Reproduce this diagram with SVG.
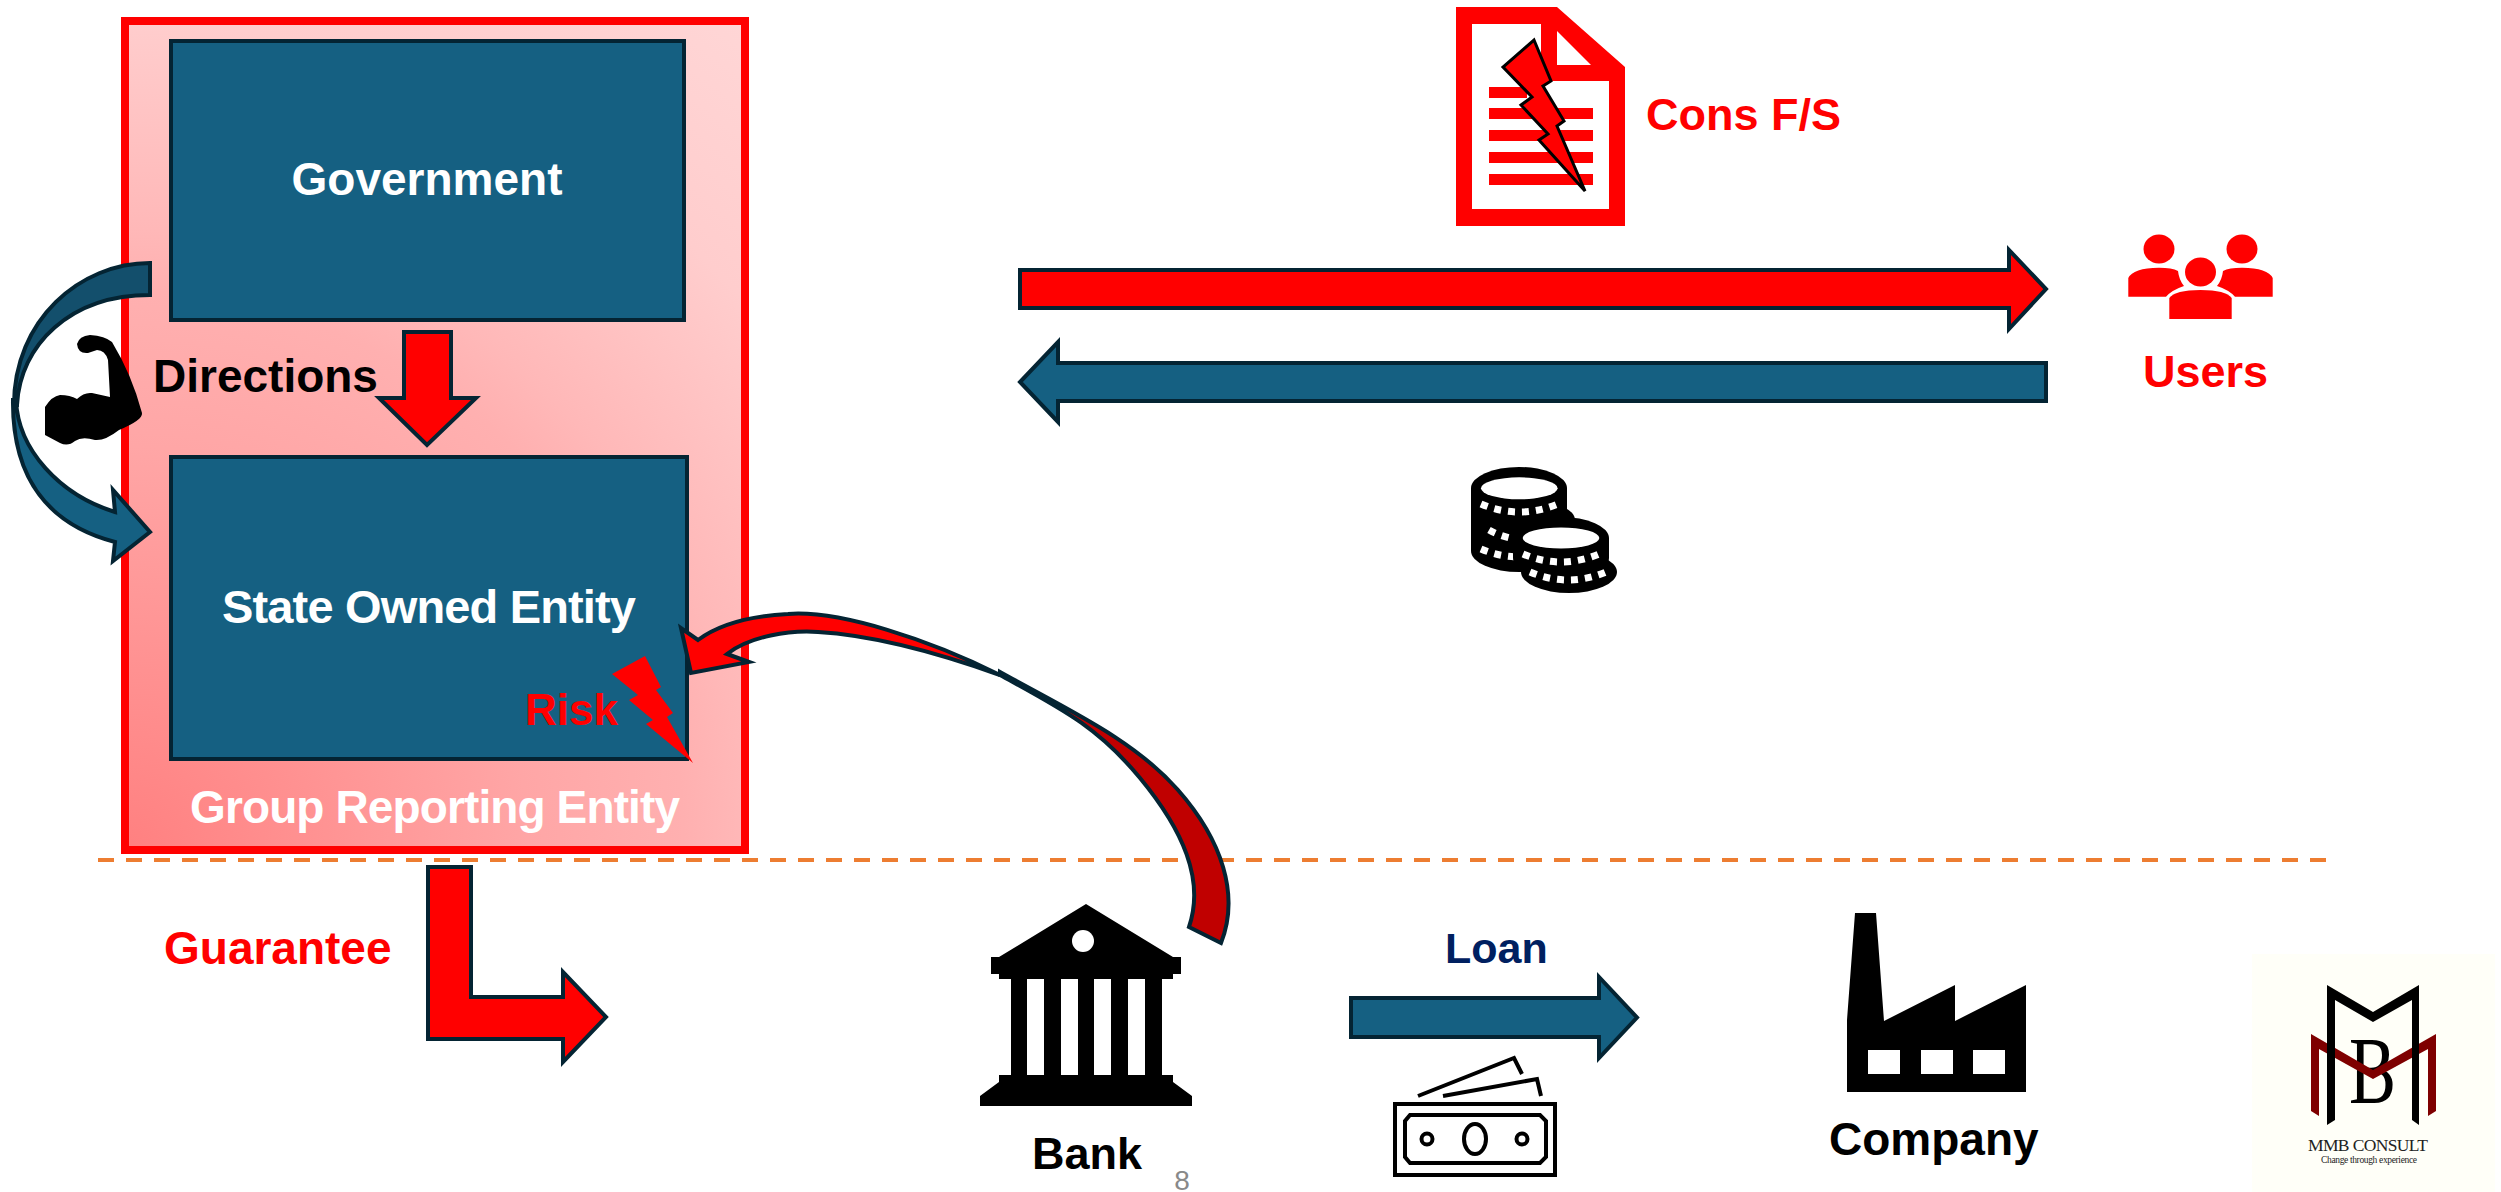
<svg xmlns="http://www.w3.org/2000/svg" width="2501" height="1192" viewBox="0 0 2501 1192">
<style>
text{font-family:"Liberation Sans",Arial,sans-serif;font-weight:700;font-size:45px}
.blue{fill:#156082;stroke:#042433;stroke-width:4;stroke-linejoin:miter}
.red{fill:#f00;stroke:#042433;stroke-width:4;stroke-linejoin:miter}
.dred{fill:#c00000;stroke:#042433;stroke-width:4}
.wt{fill:#fff}.rt{fill:#f00}.bt{fill:#000}
.k{fill:#000}.w{fill:#fff}
.notch{fill:none;stroke:#fff;stroke-width:7;stroke-dasharray:7 7}
.cash{fill:none;stroke:#000;stroke-width:4}
</style>
<defs>
<radialGradient id="grp" gradientUnits="userSpaceOnUse" cx="125" cy="850" r="1035">
<stop offset="0" stop-color="#ff8080"/><stop offset=".39" stop-color="#ffa6a6"/><stop offset=".54" stop-color="#ffb0b0"/><stop offset=".6" stop-color="#ffb8b8"/><stop offset=".8" stop-color="#ffcdcd"/><stop offset="1" stop-color="#ffd6d6"/>
</radialGradient>
</defs>
<rect width="2501" height="1192" fill="#fff"/>

<g id="group-reporting-entity">
<rect x="125" y="21" width="620" height="829" fill="url(#grp)" stroke="#f00" stroke-width="8"/>
<text x="190" y="823" textLength="490" class="wt" style="font-size:46px">Group Reporting Entity</text>
</g>
<g id="government">
<rect x="171" y="41" width="513" height="279" class="blue"/>
<text x="427" y="195" text-anchor="middle" class="wt" style="font-size:46px">Government</text>
</g>
<g id="state-owned-entity">
<rect x="171" y="457" width="516" height="302" class="blue"/>
<text x="222" y="623" textLength="414" class="wt" style="font-size:47px">State Owned Entity</text>
</g>
<g id="risk">
<text x="525" y="725" class="rt" style="font-size:44px">Risk</text>
<polygon points="645,656 661,687 656,690 673,713 667,717 693,763 646,724 653,720 629,700 638,695 612,674" fill="#f00"/>
</g>

<line id="divider" x1="98" y1="860" x2="2326" y2="860" stroke="#ed7d31" stroke-width="4" stroke-dasharray="16 12"/>

<g id="connectors">
<polygon class="red" points="404,332 451,332 451,398 476,398 427,445 379,398 404,398"/>
<path d="M150 263C80 263 14 320 14 405L17 405C20 345 70 295 150 295Z" fill="#134f6c" stroke="#042433" stroke-width="4"/>
<path class="blue" d="M16 400C18 450 60 495 115 512L113 490L150 532L113 561L115 542C50 525 12 480 13 400Z"/>
<path class="dred" d="M1189 927C1205 880 1183 830 1140 778S1060 708 1000 675L1000 672C1072 712 1134 740 1178 790S1240 895 1221 943Z"/>
<path class="red" d="M681 628L691 673L749 662L727 654C750 636 790 630 818 632C870 635 930 650 1000 675C930 640 840 610 788 614C750 616 718 625 698 640Z"/>
<polygon class="red" points="1020,270 2009,270 2009,250 2046,289 2009,329 2009,308 1020,308"/>
<polygon class="blue" points="2046,363 1058,363 1058,342 1020,382 1058,422 1058,401 2046,401"/>
<polygon class="red" points="428,867 471,867 471,997 563,997 563,972 606,1017 563,1062 563,1039 428,1039"/>
<polygon class="blue" points="1351,998 1599,998 1599,977 1637,1017.500 1599,1058 1599,1037 1351,1037"/>
</g>

<g id="directions">
<path class="k" d="M90 335Q105 336 112 342Q132 375 142 413Q143 420 119 430Q105 441 95 440Q82 436 75 441Q68 447 60 443L45 435V407Q52 396 60 395Q70 395 77 399Q84 392 92 393L110 397L108 360Q105 350 97 350L88 353Q78 354 77 344Q79 336 90 335Z"/>
<text x="153" y="392" style="font-size:46px" class="bt">Directions</text>
</g>

<g id="guarantee"><text x="164" y="964" class="rt" style="font-size:46px">Guarantee</text></g>

<g id="cons-fs">
<path fill-rule="evenodd" fill="#f00" d="M1456 7H1557L1625 67V226H1456ZM1472 24V209H1609V81H1541V24ZM1557 31V65H1591Z"/>
<g fill="#f00"><rect x="1489" y="87" width="38" height="11"/><rect x="1489" y="108" width="104" height="11"/><rect x="1489" y="130" width="104" height="11"/><rect x="1489" y="152" width="104" height="11"/><rect x="1489" y="174" width="104" height="11"/></g>
<polygon points="1534,40 1551,81 1543,86 1564,121 1557,126 1585,191 1539,140 1548,134 1521,105 1532,97 1503,67" fill="#f00" stroke="#000" stroke-width="3"/>
<text x="1646" y="130" class="rt">Cons F/S</text>
</g>

<g id="users" fill="#f00">
<ellipse cx="2159" cy="249" rx="15.500" ry="14.500"/><ellipse cx="2242" cy="249" rx="15.500" ry="14.500"/><ellipse cx="2200.500" cy="272" rx="15.500" ry="14.500"/>
<path d="M2128.300 296.700V278Q2133 268 2159 267.700Q2172 267.700 2178 271Q2179 280 2184 286Q2172 290 2166 296.700Z"/>
<path d="M2272.700 296.700V278Q2268 268 2242 267.700Q2229 267.700 2223 271Q2222 280 2217 286Q2229 290 2235 296.700Z"/>
<path d="M2169.300 319V298Q2175 290 2200.500 290Q2226 290 2231.700 298V319Z"/>
<text x="2143" y="387" class="rt">Users</text>
</g>

<g id="coins">
<g class="k"><ellipse cx="1519" cy="488" rx="48" ry="21"/><ellipse cx="1519" cy="551" rx="48" ry="21"/><rect x="1471" y="488" width="96" height="63"/><ellipse cx="1527" cy="520" rx="48" ry="20"/></g>
<ellipse class="w" cx="1519.300" cy="488.300" rx="38.300" ry="11"/>
<path class="notch" d="M1481 504Q1519 520 1558 504"/>
<path class="notch" d="M1489 530Q1505 539 1530 541"/>
<path class="notch" d="M1481 549Q1519 565 1558 549"/>
<g class="k"><ellipse cx="1561" cy="538" rx="48" ry="21"/><rect x="1513" y="538" width="96" height="20"/><ellipse cx="1561" cy="558" rx="48" ry="21"/><ellipse cx="1569" cy="572" rx="48" ry="21"/></g>
<ellipse class="w" cx="1561" cy="538" rx="38.300" ry="10.500"/>
<path class="notch" d="M1523 554Q1561 570 1599 554"/>
<path class="notch" d="M1530 572Q1568 588 1606 572"/>
</g>

<g id="bank">
<path class="k" d="M1086 904L1173 957H1181V974H1173V979H1162V1075H1173V1082L1192 1096V1106H980V1096L999 1082V1075H1011V979H999V974H991V957H999Z"/>
<g class="w"><circle cx="1083" cy="941" r="11"/><rect x="1027" y="979" width="17" height="96"/><rect x="1061" y="979" width="17" height="96"/><rect x="1094" y="979" width="17" height="96"/><rect x="1128" y="979" width="17" height="96"/></g>
<text x="1032" y="1169" class="bt">Bank</text>
</g>

<text id="page-number" x="1182" y="1190" text-anchor="middle" fill="#898989" style="font-weight:400;font-size:28px">8</text>

<g id="loan">
<text x="1445" y="963" fill="#002060" style="font-size:43px">Loan</text>
<rect class="cash" x="1395" y="1104" width="160" height="71"/>
<polygon class="cash" points="1410,1115 1540,1115 1546,1121 1546,1157 1540,1163 1410,1163 1405,1157 1405,1121"/>
<ellipse class="cash" cx="1475" cy="1139" rx="11" ry="15"/>
<circle class="cash" cx="1427" cy="1139" r="5.500"/><circle class="cash" cx="1522" cy="1139" r="5.500"/>
<polyline class="cash" points="1418,1096 1514,1058 1522,1074"/>
<polyline class="cash" points="1443,1096 1537,1079 1541,1096"/>
</g>

<g id="company">
<path class="k" d="M1855 913H1876L1884 1021L1955 985V1021L2026 985V1092H1847V1020Z"/>
<g class="w"><rect x="1868" y="1050" width="32" height="24"/><rect x="1921" y="1050" width="32" height="24"/><rect x="1973" y="1050" width="32" height="24"/></g>
<text x="1829" y="1155" class="bt" style="font-size:46px">Company</text>
</g>

<g id="logo">
<rect x="2252" y="954" width="243" height="238" fill="#fffff8"/>
<text transform="translate(2349 1103) scale(.72 .98)" style="font-family:'Liberation Serif',serif;font-size:98px;font-weight:400">B</text>
<polygon fill="#7f0000" points="2311,1034 2373,1070 2436,1034 2436,1111 2428,1116 2428,1049 2373,1079 2319,1049 2319,1116 2311,1111"/>
<polygon class="k" points="2327,985 2373,1012 2419,985 2419,1125 2412,1120 2412,1000 2373,1022 2335,1000 2335,1120 2327,1125"/>
<text x="2308" y="1151" textLength="120" fill="#222" style="font-family:'Liberation Serif',serif;font-weight:400;font-size:17.500px">MMB CONSULT</text>
<text x="2321" y="1163" textLength="96" fill="#222" style="font-family:'Liberation Serif',serif;font-weight:400;font-size:9.500px">Change through experience</text>
</g>
</svg>
